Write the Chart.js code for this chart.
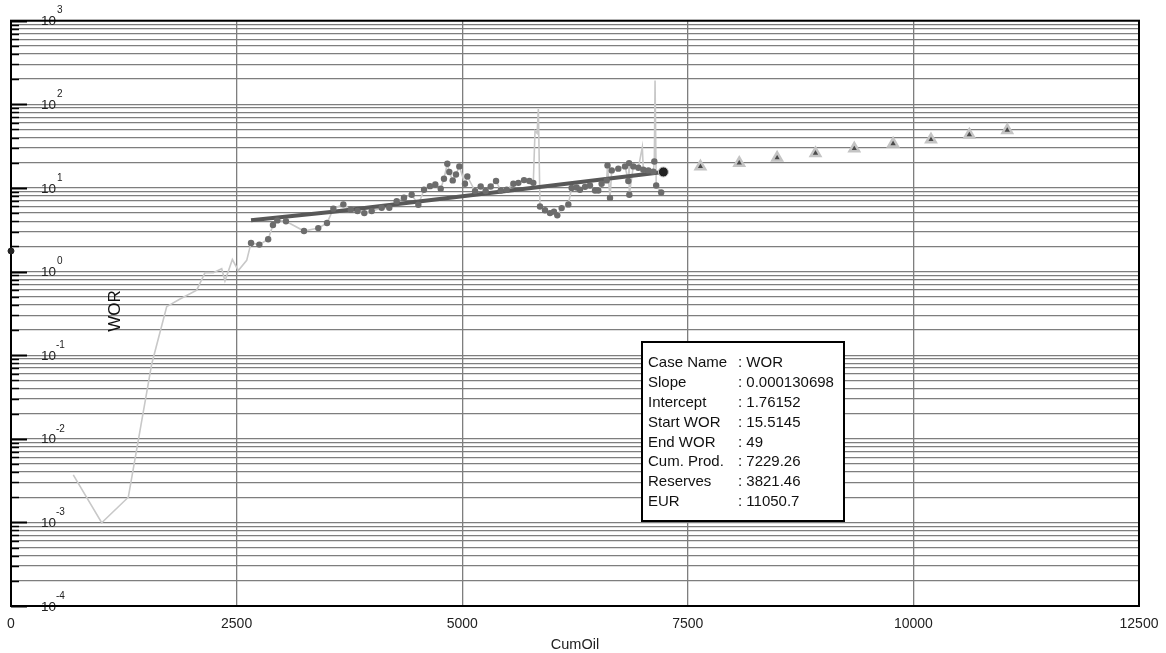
<!DOCTYPE html>
<html>
<head>
<meta charset="utf-8">
<title>WOR vs CumOil</title>
<script src="https://cdn.jsdelivr.net/npm/chart.js@4/dist/chart.umd.min.js"></script>
<style>
  html, body { margin: 0; padding: 0; background: #fff; }
  canvas { display: block; }
</style>
</head>
<body>
<canvas id="chart" width="1166" height="653"></canvas>
<script>
// Measured history: cumulative oil vs water-oil ratio
const rawCum = [690, 1005, 1300, 1560, 1725, 1873, 2058, 2150, 2242, 2335, 2371, 2453, 2519, 2612,
  2660, 2752, 2850, 2903, 2951, 3047, 3247, 3405, 3502, 3572, 3683, 3765, 3840, 3915, 3997, 4108,
  4192, 4274, 4355, 4440, 4514, 4577, 4643, 4702, 4762, 4798, 4835, 4857, 4895, 4931, 4968, 5031,
  5057, 5142, 5205, 5260, 5316, 5375, 5427, 5493, 5567, 5622, 5685, 5744, 5788, 5807, 5830, 5844,
  5862, 5918, 5973, 6017, 6054, 6102, 6176, 6213, 6268, 6305, 6361, 6416, 6472, 6508, 6545, 6601,
  6610, 6638, 6657, 6730, 6804, 6841, 6849, 6852, 6896, 6952, 6996, 7007, 7063, 7118, 7129, 7137,
  7150, 7205];
const rawWor = [0.0037, 0.00099, 0.0020, 0.079, 0.38, 0.47, 0.60, 0.97, 0.97, 1.08, 0.77, 1.39, 1.03, 1.36,
  2.2, 2.1, 2.43, 3.6, 4.09, 4.0, 3.05, 3.31, 3.8, 5.65, 6.36, 5.5, 5.3, 5.0, 5.28, 5.79,
  5.79, 6.95, 7.64, 8.3, 6.3, 9.5, 10.5, 11.0, 9.8, 12.9, 19.5, 15.5, 12.3, 14.5, 18.1, 11.2,
  13.7, 9.16, 10.4, 9.2, 10.4, 12.1, 9.3, 9.5, 11.2, 11.5, 12.4, 12.1, 11.5, 48, 45, 88,
  6.0, 5.4, 5.0, 5.2, 4.7, 5.74, 6.35, 10.0, 10.1, 9.5, 10.3, 10.7, 9.3, 9.3, 11.2, 12.3,
  18.6, 7.6, 16.2, 17.0, 18.1, 12.1, 19.8, 8.3, 18.1, 17.4, 30.7, 16.5, 16.2, 15.6, 20.7, 192,
  10.7, 8.8];

// Points selected for the fit
const dotCum = [2660, 2752, 2850, 2903, 2951, 3047, 3247, 3405, 3502, 3572, 3683, 3765, 3840, 3915,
  3997, 4108, 4192, 4274, 4355, 4440, 4514, 4577, 4643, 4702, 4762, 4798, 4835, 4857, 4895, 4931,
  4968, 5031, 5057, 5142, 5205, 5260, 5316, 5375, 5427, 5493, 5567, 5622, 5685, 5744, 5788, 5862,
  5918, 5973, 6017, 6054, 6102, 6176, 6213, 6268, 6305, 6361, 6416, 6472, 6508, 6545, 6601, 6610,
  6638, 6657, 6730, 6804, 6841, 6849, 6852, 6896, 6952, 7007, 7063, 7118, 7129, 7150, 7205];
const dotWor = [2.2, 2.1, 2.43, 3.6, 4.09, 4.0, 3.05, 3.31, 3.8, 5.65, 6.36, 5.5, 5.3, 5.0,
  5.28, 5.79, 5.79, 6.95, 7.64, 8.3, 6.3, 9.5, 10.5, 11.0, 9.8, 12.9, 19.5, 15.5, 12.3, 14.5,
  18.1, 11.2, 13.7, 9.16, 10.4, 9.2, 10.4, 12.1, 9.3, 9.5, 11.2, 11.5, 12.4, 12.1, 11.5, 6.0,
  5.4, 5.0, 5.2, 4.7, 5.74, 6.35, 10.0, 10.1, 9.5, 10.3, 10.7, 9.3, 9.3, 11.2, 12.3, 18.6,
  7.6, 16.2, 17.0, 18.1, 12.1, 19.8, 8.3, 18.1, 17.4, 16.5, 16.2, 15.6, 20.7, 10.7, 8.8];

// Fitted trend over the history
const fitCum = [2660, 3570, 5420, 7229.26];
const fitWor = [4.1, 5.2, 9.0, 15.5145];

// Forecast to the economic limit
const fcstCum = [7640, 8070, 8490, 8915, 9345, 9775, 10195, 10620, 11040];
const fcstWor = [18.0, 19.9, 22.9, 26.0, 29.6, 33.8, 37.9, 43.3, 49.0];

const startCum = [7229.26];
const startWor = [15.5145];
const interceptCum = [0];
const interceptWor = [1.76152];

const xTickLabels = ['0', '2500', '5000', '7500', '10000', '12500'];
const yExponents = [-4, -3, -2, -1, 0, 1, 2, 3];

const boxLabels = ['Case Name', 'Slope', 'Intercept', 'Start WOR', 'End WOR', 'Cum. Prod.', 'Reserves', 'EUR'];
const boxValues = ['WOR', '0.000130698', '1.76152', '15.5145', '49', '7229.26', '3821.46', '11050.7'];

const FONT = "'Liberation Sans', Arial, sans-serif";
const GRID = '#7e7e7e';

function pts(xs, ys) {
  return xs.map((x, i) => ({ x: x, y: ys[i] }));
}

// every 1..9 x 10^n line of the log axis
const yTickValues = [];
yExponents.forEach((e, i) => {
  const top = i === yExponents.length - 1 ? 1 : 9;
  for (let k = 1; k <= top; k++) yTickValues.push(k * Math.pow(10, e));
});

const decorPlugin = {
  id: 'decor',
  beforeDatasetsDraw(chart) {
    const ctx = chart.ctx;
    const area = chart.chartArea;
    const y = chart.scales.y;
    ctx.save();

    // short ticks inside the left axis
    ctx.strokeStyle = '#000';
    yTickValues.forEach(v => {
      const py = Math.round(y.getPixelForValue(v)) + 0.5;
      const major = Math.abs(Math.log10(v) - Math.round(Math.log10(v))) < 1e-9;
      ctx.lineWidth = major ? 2 : 1.5;
      ctx.beginPath();
      ctx.moveTo(area.left, py);
      ctx.lineTo(area.left + (major ? 16 : 8), py);
      ctx.stroke();
    });

    // 10^n labels drawn inside the plot
    ctx.fillStyle = '#222';
    ctx.textBaseline = 'middle';
    yExponents.forEach(e => {
      const py = y.getPixelForValue(Math.pow(10, e));
      ctx.font = '13.5px ' + FONT;
      ctx.textAlign = 'left';
      ctx.fillText('10', 41, py + 1);
      ctx.font = '10px ' + FONT;
      ctx.fillText(String(e), e < 0 ? 56 : 57, py - 10);
    });

    // y axis title
    ctx.save();
    ctx.translate(115, 311);
    ctx.rotate(-Math.PI / 2);
    ctx.font = '17px ' + FONT;
    ctx.textAlign = 'center';
    ctx.fillStyle = '#111';
    ctx.fillText('WOR', 0, 0);
    ctx.restore();

    // x axis title
    ctx.font = '14.5px ' + FONT;
    ctx.textAlign = 'center';
    ctx.fillStyle = '#222';
    ctx.fillText('CumOil', (area.left + area.right) / 2, 645);

    // frame
    ctx.strokeStyle = '#000';
    ctx.lineWidth = 2;
    ctx.strokeRect(area.left, area.top, area.right - area.left, area.bottom - area.top);
    ctx.restore();
  },
  afterDraw(chart) {
    const ctx = chart.ctx;
    ctx.save();
    const bx = 642, by = 342, bw = 202, bh = 179;
    ctx.fillStyle = '#fff';
    ctx.fillRect(bx, by, bw, bh);
    ctx.strokeStyle = '#000';
    ctx.lineWidth = 2;
    ctx.strokeRect(bx, by, bw, bh);
    ctx.font = '15px ' + FONT;
    ctx.fillStyle = '#111';
    ctx.textBaseline = 'middle';
    ctx.textAlign = 'left';
    boxLabels.forEach((lab, i) => {
      const ty = 363 + i * 19.85;
      ctx.fillText(lab, 648, ty);
      ctx.fillText(': ' + boxValues[i], 738, ty);
    });
    ctx.restore();
  }
};

new Chart(document.getElementById('chart'), {
  type: 'scatter',
  data: {
    datasets: [
      {
        label: 'History',
        data: pts(rawCum, rawWor),
        showLine: true,
        borderColor: '#c8c8c8',
        borderWidth: 1.6,
        pointRadius: 0,
        order: 6
      },
      {
        label: 'Fit',
        data: pts(fitCum, fitWor),
        showLine: true,
        borderColor: '#585858',
        borderWidth: 4,
        pointRadius: 0,
        order: 5
      },
      {
        label: 'Selected',
        data: pts(dotCum, dotWor),
        backgroundColor: '#6c6c6c',
        borderColor: '#6c6c6c',
        borderWidth: 0,
        pointRadius: 3.2,
        order: 4
      },
      {
        label: 'Forecast',
        data: pts(fcstCum, fcstWor),
        pointStyle: 'triangle',
        backgroundColor: '#4a4a4a',
        borderColor: '#c4c4c4',
        borderWidth: 2.5,
        pointRadius: 5.5,
        order: 3
      },
      {
        label: 'Start',
        data: pts(startCum, startWor),
        backgroundColor: '#222',
        borderColor: '#c8c8c8',
        borderWidth: 1,
        pointRadius: 5,
        order: 2
      },
      {
        label: 'Intercept',
        data: pts(interceptCum, interceptWor),
        backgroundColor: '#222',
        borderColor: '#222',
        pointRadius: 3,
        clip: false,
        order: 1
      }
    ]
  },
  options: {
    responsive: false,
    animation: false,
    devicePixelRatio: 1,
    layout: { padding: { left: 0, right: 27, top: 20.7, bottom: 0 } },
    plugins: {
      legend: { display: false },
      tooltip: { enabled: false }
    },
    scales: {
      x: {
        type: 'linear',
        min: 0,
        max: 12500,
        afterFit(scale) {
          scale.height = 47;
          scale.paddingLeft = 0;
          scale.paddingRight = 0;
        },
        border: { display: false },
        grid: { color: GRID, lineWidth: 1.3, drawTicks: false },
        ticks: {
          stepSize: 2500,
          padding: 10,
          color: '#222',
          font: { family: FONT, size: 14 },
          maxRotation: 0,
          callback: (v, i) => xTickLabels[i]
        }
      },
      y: {
        type: 'logarithmic',
        min: 1e-4,
        max: 1e3,
        afterFit(scale) { scale.width = 11; },
        afterBuildTicks(scale) { scale.ticks = yTickValues.map(v => ({ value: v })); },
        border: { display: false },
        grid: { color: GRID, lineWidth: 1.3, drawTicks: false },
        ticks: { display: false }
      }
    }
  },
  plugins: [decorPlugin]
});
</script>
</body>
</html>
